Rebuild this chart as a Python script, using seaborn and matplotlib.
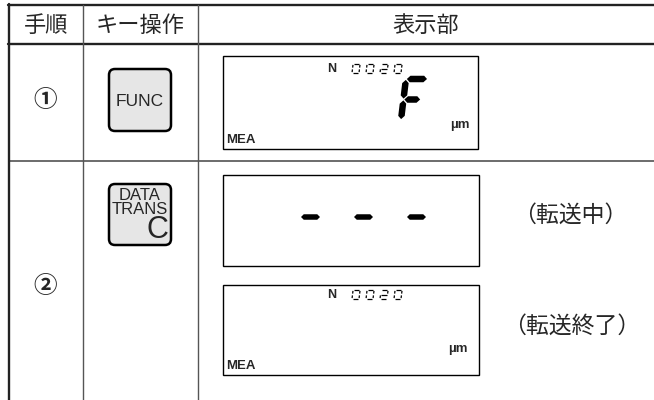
import numpy as np
import seaborn as sns
import matplotlib.pyplot as plt
from matplotlib.patches import Polygon, FancyBboxPatch, Rectangle

# table content
headers = ['手順', 'キー操作', '表示部']
steps = ['①', '②']
key_func = 'FUNC'
key_trans_lines = ['DATA', 'TRANS']
key_trans_letter = 'C'
counter_label = 'N'
counter_digits = '0020'
mode_label = 'MEA'
unit_label = 'µm'
func_char = 'F'
status_labels = ['（転送中）', '（転送終了）']
transfer_dashes = 3

# seven segment map
SEGMENTS = {'0': 'abcdef', '2': 'abged', 'F': 'afge', '-': 'g'}

sns.set_theme(style='white')
JP = ['Noto Sans CJK JP', 'DejaVu Sans']
LAT = ['Liberation Sans', 'DejaVu Sans']
plt.rcParams['font.family'] = JP

fig = plt.figure(figsize=(6.54, 4), dpi=100)
ax = fig.add_axes([0, 0, 1, 1])
ax.set_xlim(0, 654)
ax.set_ylim(400, 0)
ax.axis('off')


def seg_poly(p1, p2, t, gap):
    (x1, y1), (x2, y2) = p1, p2
    if y1 == y2:
        x1, x2 = x1 + gap, x2 - gap
        return [(x1, y1), (x1 + t / 2, y1 - t / 2), (x2 - t / 2, y1 - t / 2),
                (x2, y1), (x2 - t / 2, y1 + t / 2), (x1 + t / 2, y1 + t / 2)]
    y1, y2 = y1 + gap, y2 - gap
    return [(x1, y1), (x1 + t / 2, y1 + t / 2), (x1 + t / 2, y2 - t / 2),
            (x1, y2), (x1 - t / 2, y2 - t / 2), (x1 - t / 2, y1 + t / 2)]


def seg_ends(x, y, w, h, gw=1.0):
    top, mid, bot = y - h, y - h / 2, y
    L, R = x, x + w
    return {'a': ((L, top), (R, top)), 'g': ((L, mid), (L + w * gw, mid)),
            'd': ((L, bot), (R, bot)), 'f': ((L, top), (L, mid)),
            'b': ((R, top), (R, mid)), 'e': ((L, mid), (L, bot)),
            'c': ((R, mid), (R, bot))}


def draw_char(ch, x, y, w, h, t, slant=0.12, gap=0.8, gw=1.0):
    ends = seg_ends(x, y, w, h, gw)
    for s in SEGMENTS[ch]:
        pts = seg_poly(*ends[s], t, gap)
        pts = [(px + slant * (y - py), py) for px, py in pts]
        ax.add_patch(Polygon(pts, closed=True, fc='black', lw=0))


def draw_thin_char(ch, x, y, w, h, slant=0.12, gap=0.9, lw=0.9):
    ends = seg_ends(x, y, w, h)
    for s in SEGMENTS[ch]:
        (x1, y1), (x2, y2) = ends[s]
        if y1 == y2:
            x1, x2 = x1 + gap, x2 - gap
        else:
            y1, y2 = y1 + gap, y2 - gap
        ax.plot([x1 + slant * (y - y1), x2 + slant * (y - y2)], [y1, y2],
                color='black', lw=lw, solid_capstyle='butt')


def draw_counter(y_bottom):
    ax.text(331.5, y_bottom - 4.5, counter_label, ha='center', va='center',
            fontsize=9, fontweight='bold', family=LAT)
    for i, d in enumerate(counter_digits):
        draw_thin_char(d, 352 + i * 14, y_bottom, 7, 9, slant=0.12)


def lcd_box(x0, y0, x1, y1):
    ax.add_patch(Rectangle((x0, y0), x1 - x0, y1 - y0, fill=False,
                           ec='black', lw=1.0))


def key(x0, y0, x1, y1):
    ax.add_patch(FancyBboxPatch((x0 + 6, y0 + 6), x1 - x0 - 12, y1 - y0 - 12,
                                boxstyle='round,pad=6', fc='#e6e6e6',
                                ec='black', lw=1.8))


# grid lines
ax.plot([8, 654], [5, 5], color='#222222', lw=1.7)
ax.plot([8, 654], [44, 44], color='#222222', lw=1.7)
ax.plot([9, 654], [161, 161], color='#444444', lw=1.1)
ax.plot([9, 9], [4, 400], color='#222222', lw=1.7)
for cx in [83, 198]:
    ax.plot([cx, cx], [5, 400], color='#555555', lw=1.0)

# header
for cx, h in zip([46, 140, 426], headers):
    ax.text(cx, 25, h, ha='center', va='center', fontsize=16, family=JP)

# step numbers
for cy, s in zip([100, 286], steps):
    ax.text(45, cy, s, ha='center', va='center', fontsize=17,
            fontweight='bold', family=JP)

# keys
key(109, 69, 171, 131)
ax.text(140, 101, key_func, ha='center', va='center', fontsize=12.5, family=LAT)
key(109, 184, 171, 245)
for cy, t in zip([195, 209], key_trans_lines):
    ax.text(140, cy, t, ha='center', va='center', fontsize=12, family=LAT)
ax.text(157, 230, key_trans_letter, ha='center', va='center', fontsize=22, family=LAT)

# display 1 : FUNC
lcd_box(223, 56, 478, 149)
draw_counter(73)
draw_char(func_char, 401, 120, 22, 41, 6.5, slant=0.12, gap=0.9, gw=0.8)
ax.text(460, 125, unit_label, ha='center', va='center', fontsize=9.5,
        fontweight='bold', family=LAT)
ax.text(226, 140, mode_label, ha='left', va='center', fontsize=9.5,
        fontweight='bold', family=LAT)

# display 2 : transferring
lcd_box(223, 175, 479, 266)
for i in range(transfer_dashes):
    draw_char('-', 301 + i * 53, 217.5, 19, 1, 5.5, slant=0, gap=0)
ax.text(570, 215, status_labels[0], ha='center', va='center', fontsize=16.5, family=JP)

# display 3 : finished
lcd_box(223, 285, 479, 375)
draw_counter(299)
ax.text(458, 349, unit_label, ha='center', va='center', fontsize=9.5,
        fontweight='bold', family=LAT)
ax.text(226, 366, mode_label, ha='left', va='center', fontsize=9.5,
        fontweight='bold', family=LAT)
ax.text(572, 326, status_labels[1], ha='center', va='center', fontsize=16.5, family=JP)

fig.savefig('out.png', dpi=100, facecolor='white')
